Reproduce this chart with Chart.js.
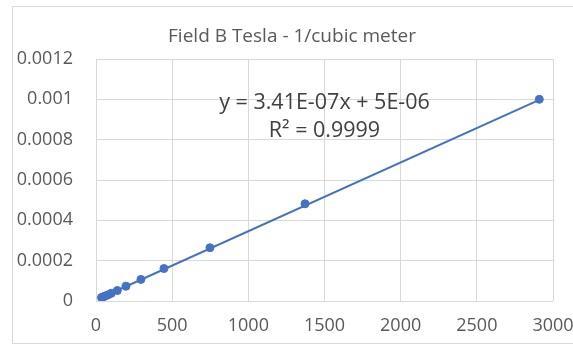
<!DOCTYPE html>
<html>
<head>
<meta charset="utf-8">
<script src="https://cdn.jsdelivr.net/npm/chart.js@4.4.0/dist/chart.umd.min.js"></script>
<style>
html,body{margin:0;padding:0;background:#fff;}
#wrap{width:573px;height:345px;position:relative;}
</style>
</head>
<body>
<div id="wrap"><canvas id="c" width="573" height="345"></canvas></div>
<script>
const chartTitle = "Field B Tesla - 1/cubic meter";
const xValues = [2910, 1372, 748, 446, 295, 197, 140, 100, 80, 64, 52, 43, 36];
const yValues = [0.001, 0.000482, 0.000264, 0.000161, 0.000107, 0.0000735, 0.000052, 0.000038, 0.000031, 0.000026, 0.000022, 0.000019, 0.000017];
const trendSlope = 3.41e-7;
const trendIntercept = 5e-6;
const equationLines = ["y = 3.41E-07x + 5E-06", "R\u00B2 = 0.9999"];
const xTicks = [0, 500, 1000, 1500, 2000, 2500, 3000];
const yTicks = [0, 0.0002, 0.0004, 0.0006, 0.0008, 0.001, 0.0012];

const blue = '#4472C4';
const points = xValues.map((x, i) => ({x: x, y: yValues[i]}));
const xMin = Math.min(...xValues), xMax = Math.max(...xValues);
const trend = [xMin, xMax].map(x => ({x: x, y: trendSlope * x + trendIntercept}));

const decor = {
  id: 'decor',
  beforeDraw(chart) {
    const ctx = chart.ctx;
    ctx.save();
    ctx.fillStyle = '#fff';
    ctx.fillRect(0, 0, chart.width, chart.height);
    ctx.strokeStyle = '#d9d9d9';
    ctx.lineWidth = 1;
    ctx.strokeRect(12.5, 6.5, 580, 337);
    ctx.fillStyle = '#595959';
    ctx.font = '19px "Open Sans"';
    ctx.textAlign = 'center';
    ctx.textBaseline = 'middle';
    ctx.fillText(chartTitle, 292, 37);
    ctx.restore();
  },
  afterDatasetsDraw(chart) {
    const ctx = chart.ctx;
    const a = chart.chartArea;
    const cx = (a.left + a.right) / 2;
    const ys = chart.scales.y;
    ctx.save();
    ctx.fillStyle = '#404040';
    ctx.font = '21.5px "Open Sans"';
    ctx.textAlign = 'center';
    ctx.textBaseline = 'middle';
    const y0 = ys.getPixelForValue(0.00099) + 2;
    ctx.fillText(equationLines[0], cx, y0);
    ctx.fillText(equationLines[1], cx, y0 + 28);
    ctx.restore();
  }
};

new Chart(document.getElementById('c'), {
  type: 'scatter',
  data: {
    datasets: [
      {
        data: points,
        backgroundColor: blue,
        borderColor: blue,
        pointRadius: 4,
        pointHoverRadius: 4,
        showLine: false,
        order: 0
      },
      {
        data: trend,
        borderColor: blue,
        borderWidth: 2,
        pointRadius: 0,
        showLine: true,
        order: 1
      }
    ]
  },
  options: {
    responsive: false,
    animation: false,
    layout: {padding: {left: 0, right: 20, top: 59, bottom: 0}},
    plugins: {legend: {display: false}, tooltip: {enabled: false}, title: {display: false}},
    scales: {
      x: {
        type: 'linear',
        min: 0, max: 3000,
        afterBuildTicks(s) { s.ticks = xTicks.map(v => ({value: v})); },
        afterFit(s) { s.height = 44; s.paddingLeft = 0; s.paddingRight = 0; },
        grid: {color: '#d9d9d9', drawTicks: false, lineWidth: 1},
        border: {display: false},
        ticks: {color: '#595959', font: {family: 'Open Sans', size: 18}, padding: 14, maxRotation: 0,
          callback: v => String(v)}
      },
      y: {
        type: 'linear',
        min: 0, max: 0.0012,
        afterBuildTicks(s) { s.ticks = yTicks.map(v => ({value: v})); },
        afterFit(s) { s.width = 96; s.paddingTop = 0; s.paddingBottom = 0; },
        grid: {color: '#d9d9d9', drawTicks: false, lineWidth: 1},
        border: {display: false},
        ticks: {color: '#595959', font: {family: 'Open Sans', size: 18}, padding: 23,
          callback: v => String(Number(v.toPrecision(6)))}
      }
    }
  },
  plugins: [decor]
});
</script>
</body>
</html>
